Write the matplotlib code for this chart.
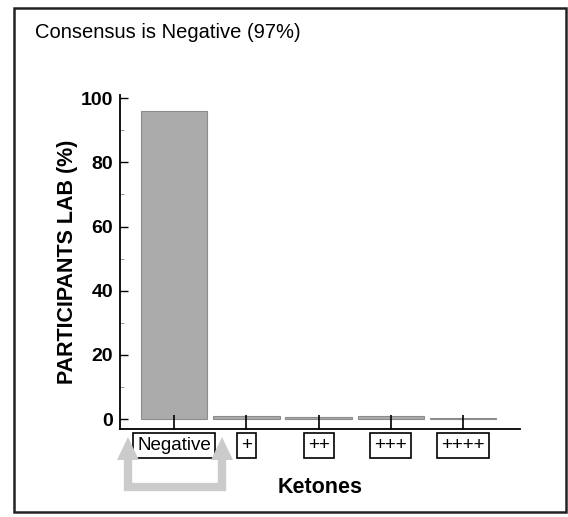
import matplotlib
matplotlib.use('Agg')
import matplotlib.pyplot as plt
from matplotlib.patches import Rectangle, Polygon
from matplotlib.lines import Line2D
from matplotlib.ticker import MultipleLocator

plt.rcParams['font.family'] = ['Liberation Sans', 'DejaVu Sans']

categories = ['Negative', '+', '++', '+++', '++++']
percents = [96, 1.0, 0.5, 0.8, 0.3]
yticks = [0, 20, 40, 60, 80, 100]

W, H = 568, 517
fig = plt.figure(figsize=(W / 100, H / 100), dpi=100)
ax = fig.add_axes([120 / W, 1 - 429 / H, 400 / W, 334 / H])

x = range(len(categories))
ax.bar(x, percents, width=0.92, color='#ababab', edgecolor='#8c8c8c', linewidth=0.8)

ax.set_xlim(-0.75, 4.79)
ax.set_ylim(-3.1, 101)
ax.set_yticks(yticks)
ax.yaxis.set_minor_locator(MultipleLocator(10))
ax.set_xticks(list(x))
ax.set_xticklabels(categories)

for s in ['top', 'right']:
    ax.spines[s].set_visible(False)
ax.spines['left'].set_linewidth(1.3)
ax.spines['bottom'].set_linewidth(1.3)

ax.tick_params(axis='y', direction='in', length=6, width=1, labelsize=14, pad=5)
ax.tick_params(axis='y', which='minor', direction='in', length=3, width=0.6, color='#888888')
ax.tick_params(axis='x', direction='in', length=10, width=1.2, labelsize=13.5, pad=6)
for lbl in ax.get_yticklabels():
    lbl.set_fontweight('bold')
for lbl in ax.get_xticklabels():
    lbl.set_bbox(dict(facecolor='white', edgecolor='black', linewidth=1.2, pad=3))

ax.set_ylabel('PARTICIPANTS LAB (%)', fontsize=15.5, fontweight='bold', labelpad=2)
ax.set_xlabel('Ketones', fontsize=15.5, fontweight='bold', labelpad=16)

fig.text(35 / W, 1 - 32 / H, 'Consensus is Negative (97%)', fontsize=14.5,
         ha='left', va='center')

# outer frame
fig.patches.append(Rectangle((14 / W, 1 - 512 / H), 552 / W, 504 / H,
                             transform=fig.transFigure, fill=False,
                             edgecolor='#222222', linewidth=1.8))

# gray U-shaped arrow under "Negative"
gray = '#cbcbcb'
fig.lines.append(Line2D([128 / W, 128 / W, 222 / W, 222 / W],
                        [1 - 455 / H, 1 - 487 / H, 1 - 487 / H, 1 - 455 / H],
                        transform=fig.transFigure, color=gray, linewidth=6,
                        solid_joinstyle='miter'))
for cx in (128, 222):
    fig.patches.append(Polygon([((cx - 11) / W, 1 - 460 / H),
                                ((cx + 11) / W, 1 - 460 / H),
                                (cx / W, 1 - 437 / H)],
                               closed=True, transform=fig.transFigure,
                               facecolor=gray, edgecolor='none'))

fig.savefig('out.png', dpi=100)
